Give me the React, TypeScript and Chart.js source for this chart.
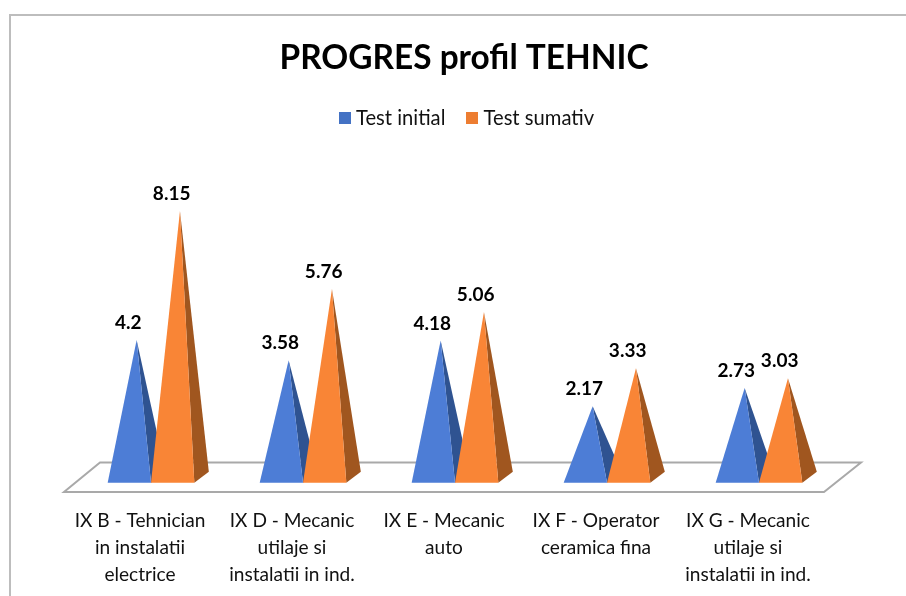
import React, { useEffect, useRef } from "react";
import { Chart, registerables } from "chart.js";

Chart.register(...registerables);

const categories: string[][] = [
  ["IX B - Tehnician", "in instalatii", "electrice"],
  ["IX D - Mecanic", "utilaje si", "instalatii in ind."],
  ["IX E - Mecanic", "auto"],
  ["IX F - Operator", "ceramica fina"],
  ["IX G - Mecanic", "utilaje si", "instalatii in ind."],
];
const testInitial = [4.2, 3.58, 4.18, 2.17, 2.73];
const testSumativ = [8.15, 5.76, 5.06, 3.33, 3.03];
const seriesNames = ["Test initial", "Test sumativ"];
const legendColors = ["#4472C4", "#ED7D31"];
const frontColors = ["#4D7DD6", "#F98536"];
const sideColors = ["#2F5391", "#A0561F"];
const FONT = "Lato, Carlito, sans-serif";
const TEXT = "#111111";

function legendSwatch(color: string) {
  const c = document.createElement("canvas");
  c.width = 12;
  c.height = 12;
  const g = c.getContext("2d") as CanvasRenderingContext2D;
  g.fillStyle = color;
  g.fillRect(0, 0, 12, 12);
  return c;
}

const pyramidPlugin = {
  id: "pyramid",
  afterLayout(chart: any) {
    chart.legend.left += 5;
    chart.legend.right += 5;
  },
  beforeDatasetsDraw(chart: any) {
    const { ctx, chartArea } = chart;
    const y0 = chart.scales.y.getPixelForValue(0);
    ctx.save();
    ctx.beginPath();
    ctx.moveTo(chartArea.left, y0 + 15);
    ctx.lineTo(chartArea.right, y0 + 15);
    ctx.lineTo(chartArea.right + 37, y0 - 14.5);
    ctx.lineTo(chartArea.left + 36, y0 - 14.5);
    ctx.closePath();
    ctx.lineWidth = 2;
    ctx.strokeStyle = "#A9A9A9";
    ctx.lineJoin = "miter";
    ctx.stroke();
    chart.data.datasets.forEach((_ds: any, i: number) => {
      chart.getDatasetMeta(i).data.forEach((bar: any) => {
        const { x, y, base, width } = bar.getProps(["x", "y", "base", "width"], true);
        const cx = x + 11;
        const left = cx - width / 2;
        const right = cx + width / 2;
        const frontY = base + 5.7;
        const apexX = cx + 7.3;
        ctx.fillStyle = sideColors[i];
        ctx.beginPath();
        ctx.moveTo(apexX, y);
        ctx.lineTo(right, frontY);
        ctx.lineTo(right + 14.5, base - 5.3);
        ctx.closePath();
        ctx.fill();
        ctx.fillStyle = frontColors[i];
        ctx.beginPath();
        ctx.moveTo(apexX, y);
        ctx.lineTo(left, frontY);
        ctx.lineTo(right, frontY);
        ctx.closePath();
        ctx.fill();
      });
    });
    ctx.restore();
  },
  beforeDatasetDraw() {
    return false;
  },
  afterDatasetsDraw(chart: any) {
    const { ctx } = chart;
    ctx.save();
    ctx.font = `bold 19px ${FONT}`;
    ctx.fillStyle = "#000000";
    ctx.textAlign = "center";
    ctx.textBaseline = "middle";
    chart.data.datasets.forEach((ds: any, i: number) => {
      chart.getDatasetMeta(i).data.forEach((bar: any, j: number) => {
        const { x, y } = bar.getProps(["x", "y"], true);
        ctx.fillText(String(ds.data[j]), x + 10, y - 17);
      });
    });
    ctx.restore();
  },
  afterDraw(chart: any) {
    const { ctx } = chart;
    ctx.save();
    ctx.strokeStyle = "#BDBDBD";
    ctx.lineWidth = 2;
    ctx.strokeRect(10, 15, 906, 596);
    ctx.restore();
  },
};

export default function App() {
  const ref = useRef<HTMLCanvasElement>(null);
  useEffect(() => {
    const swatches = legendColors.map(legendSwatch);
    const chart = new Chart(ref.current as HTMLCanvasElement, {
      type: "bar",
      data: {
        labels: categories as any,
        datasets: [
          { label: seriesNames[0], data: testInitial, backgroundColor: legendColors[0] },
          { label: seriesNames[1], data: testSumativ, backgroundColor: legendColors[1] },
        ],
      },
      plugins: [pyramidPlugin],
      options: {
        responsive: false,
        animation: false,
        layout: { padding: { left: 64, right: 42, top: 38, bottom: 0 } },
        datasets: { bar: { categoryPercentage: 0.57, barPercentage: 1 } },
        plugins: {
          tooltip: { enabled: false },
          title: {
            display: true,
            text: "PROGRES profil TEHNIC",
            color: "#000000",
            font: { family: FONT, size: 33.4, weight: "bold" },
            padding: { top: 0, bottom: 4 },
          },
          legend: {
            display: true,
            position: "top",
            labels: {
              boxWidth: 12,
              boxHeight: 12,
              usePointStyle: true,
              pointStyleWidth: 2,
              color: TEXT,
              padding: 26,
              font: { family: FONT, size: 20.2 },
              generateLabels(c: any) {
                return Chart.defaults.plugins.legend.labels
                  .generateLabels(c)
                  .map((item: any, i: number) => ({ ...item, pointStyle: swatches[i] }));
              },
            },
          },
        },
        scales: {
          x: {
            grid: { display: false },
            border: { display: false },
            afterFit(axis: any) {
              axis.height = 119;
            },
            ticks: {
              color: TEXT,
              maxRotation: 0,
              autoSkip: false,
              padding: 22,
              font: { family: FONT, size: 19.1, lineHeight: 1.415 },
            },
          },
          y: {
            position: "right",
            min: 0,
            max: 10.38,
            grid: { display: false },
            border: { display: false },
            ticks: { display: false },
            afterFit(axis: any) {
              axis.width = 40;
            },
          },
        },
      },
    } as any);
    return () => chart.destroy();
  }, []);
  return (
    <div style={{ position: "absolute", left: 0, top: 0, width: 906, height: 596, background: "#fff" }}>
      <canvas ref={ref} width={906} height={596} style={{ display: "block" }} />
    </div>
  );
}
